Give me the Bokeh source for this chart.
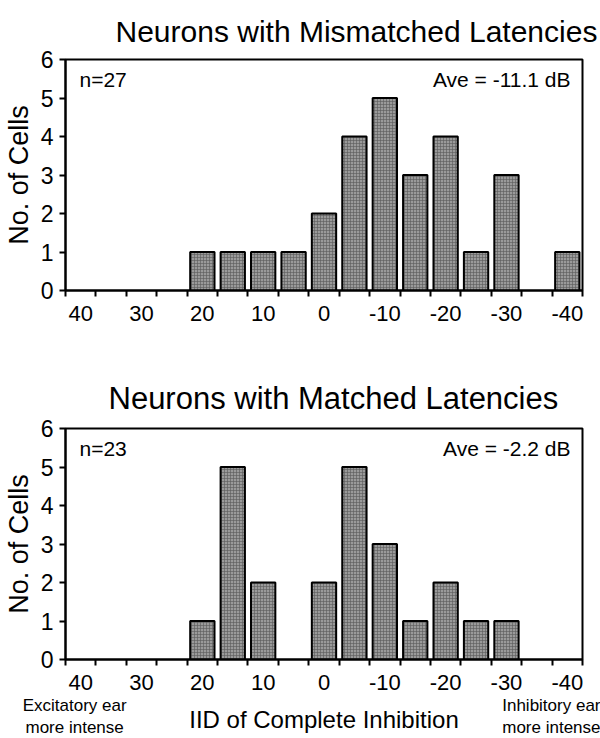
from bokeh.plotting import figure
from bokeh.models import Range1d, FixedTicker, Label, LinearAxis
from bokeh.layouts import column
from bokeh.embed import file_html
from bokeh.resources import INLINE

# ---- data ----
iid_bins = [40, 35, 30, 25, 20, 15, 10, 5, 0, -5, -10, -15, -20, -25, -30, -35, -40]
bin_edges = [42.5, 37.5, 32.5, 27.5, 22.5, 17.5, 12.5, 7.5, 2.5, -2.5, -7.5,
             -12.5, -17.5, -22.5, -27.5, -32.5, -37.5, -42.5]
x_tick_values = [40, 30, 20, 10, 0, -10, -20, -30, -40]
x_tick_labels = ["40", "30", "20", "10", "0", "-10", "-20", "-30", "-40"]
y_tick_values = [0, 1, 2, 3, 4, 5, 6]

mismatched_counts = [0, 0, 0, 0, 1, 1, 1, 1, 2, 4, 5, 3, 4, 1, 3, 0, 1]
matched_counts = [0, 0, 0, 0, 1, 5, 2, 0, 2, 5, 3, 1, 2, 1, 1, 0, 0]

titles = ["Neurons with Mismatched Latencies", "Neurons with Matched Latencies"]
n_texts = ["n=27", "n=23"]
ave_texts = ["Ave = -11.1 dB", "Ave = -2.2 dB"]
y_label = "No. of Cells"
x_label = "IID of Complete Inhibition"
left_note = "Excitatory ear\nmore intense"
right_note = "Inhibitory ear\nmore intense"

FONT = "Liberation Sans"
BAR_FILL = "#9a9a9a"


def make_panel(counts, title, n_text, ave_text, title_size, title_offset, title_standoff,
               height, mb_top, frame_h, mb_bottom):
    p = figure(width=600, height=height, frame_width=517, frame_height=frame_h,
               min_border_left=65, min_border_right=18,
               min_border_top=mb_top, min_border_bottom=mb_bottom,
               x_range=Range1d(42.5, -42.5), y_range=Range1d(0, 6),
               output_backend="svg", toolbar_location=None)
    p.xgrid.visible = False
    p.ygrid.visible = False
    p.outline_line_color = "black"
    p.outline_line_width = 2
    p.background_fill_color = "white"
    p.border_fill_color = "white"

    p.title.text = title
    p.title.text_font = FONT
    p.title.text_font_size = title_size
    p.title.text_font_style = "normal"
    p.title.text_color = "black"
    p.title.align = "left"
    p.title.offset = title_offset
    p.title.standoff = title_standoff

    xs = [b for b, c in zip(iid_bins, counts) if c > 0]
    tops = [c for c in counts if c > 0]
    p.vbar(x=xs, top=tops, width=4, bottom=0, fill_color=BAR_FILL,
           hatch_pattern="cross", hatch_scale=3, hatch_weight=0.6,
           hatch_color="#5a5a5a", line_color="black", line_width=2)

    xa = p.xaxis[0]
    xa.ticker = FixedTicker(ticks=x_tick_values, minor_ticks=bin_edges)
    xa.major_label_overrides = {v: s for v, s in zip(x_tick_values, x_tick_labels)}
    xa.major_tick_line_color = None
    xa.major_tick_out = 0
    xa.major_tick_in = 0
    xa.minor_tick_line_color = "black"
    xa.minor_tick_line_width = 2
    xa.minor_tick_out = 6
    xa.minor_tick_in = 0
    xa.axis_line_width = 2
    xa.major_label_text_font = FONT
    xa.major_label_text_font_size = "22px"
    xa.major_label_text_color = "black"
    xa.major_label_standoff = 9

    ya = p.yaxis[0]
    ya.ticker = FixedTicker(ticks=y_tick_values)
    ya.major_tick_out = 6
    ya.major_tick_in = 0
    ya.major_tick_line_width = 2
    ya.minor_tick_line_color = None
    ya.axis_line_width = 2
    ya.major_label_text_font = FONT
    ya.major_label_text_font_size = "23px"
    ya.major_label_text_color = "black"
    ya.major_label_standoff = 6
    ya.axis_label = y_label
    ya.axis_label_text_font = FONT
    ya.axis_label_text_font_size = "27px"
    ya.axis_label_text_font_style = "normal"
    ya.axis_label_text_color = "black"
    ya.axis_label_standoff = 4

    for text, x, align in ((n_text, 14, "left"), (ave_text, 505, "right")):
        p.add_layout(Label(x=x, y=frame_h - 20, x_units="screen", y_units="screen",
                           text=text, text_font=FONT, text_font_size="21px",
                           text_align=align, text_baseline="alphabetic",
                           text_color="black"))
    return p


top = make_panel(mismatched_counts, titles[0], n_texts[0], ave_texts[0],
                 "30px", 50, 24, 364, 58, 231, 75)
bottom = make_panel(matched_counts, titles[1], n_texts[1], ave_texts[1],
                    "31px", 43, 26, 374, 61, 231, 82)

# direction notes + axis caption under the lower panel, as a second (bare) x axis
notes_axis = LinearAxis(
    ticker=FixedTicker(ticks=[41, -37.5]),
    major_label_overrides={41: left_note, -37.5: right_note},
    axis_line_color=None, major_tick_line_color=None, minor_tick_line_color=None,
    major_tick_out=0, major_tick_in=0, minor_tick_out=0, minor_tick_in=0,
    major_label_standoff=3, major_label_text_font=FONT,
    major_label_text_font_size="17px", major_label_text_color="black",
    axis_label=x_label, axis_label_text_font=FONT, axis_label_text_font_size="24px",
    axis_label_text_font_style="normal", axis_label_text_color="black",
    axis_label_standoff=-34)
bottom.add_layout(notes_axis, "below")

layout = column(top, bottom, spacing=0)
open("out.html", "w").write(file_html(layout, INLINE))
